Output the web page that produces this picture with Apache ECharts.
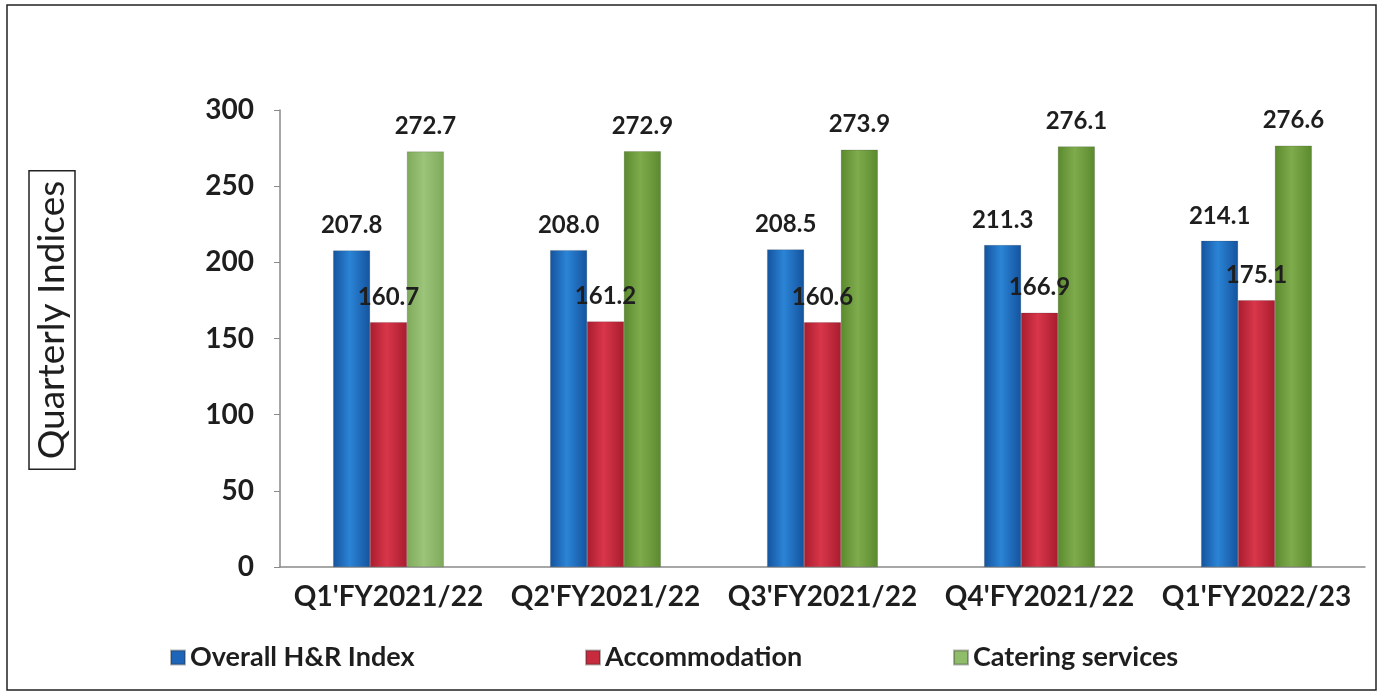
<!DOCTYPE html>
<html>
<head>
<meta charset="utf-8">
<script src="https://cdn.jsdelivr.net/npm/echarts@6/dist/echarts.min.js"></script>
<style>
  html, body { margin: 0; padding: 0; background: #fff; }
  #chart { width: 1384px; height: 696px; }
</style>
</head>
<body>
<div id="chart"></div>
<script>
const categories = ["Q1'FY2021/22", "Q2'FY2021/22", "Q3'FY2021/22", "Q4'FY2021/22", "Q1'FY2022/23"];
const overallIndex = [207.8, 208.0, 208.5, 211.3, 214.1];
const accommodation = [160.7, 161.2, 160.6, 166.9, 175.1];
const catering = [272.7, 272.9, 273.9, 276.1, 276.6];
const seriesNames = ["Overall H&R Index", "Accommodation", "Catering services"];

const FONT = "Lato";

// cylinder look: dark edges, light middle
function barGrad(edge, mid) {
  return new echarts.graphic.LinearGradient(0, 0, 1, 0, [
    { offset: 0, color: edge },
    { offset: 0.45, color: mid },
    { offset: 1, color: edge }
  ]);
}

const blue = barGrad("#14539e", "#2b84d6");
const red = barGrad("#a81d2e", "#d9364a");
const green = barGrad("#5b8a2e", "#7eab4c");
const greenLight = barGrad("#7faa5a", "#9cc47a");

const labelStyle = {
  show: true,
  position: "top",
  distance: 13,
  color: "#1e1e1e",
  fontFamily: FONT,
  fontWeight: "bold",
  fontSize: 24,
  formatter: p => p.value.toFixed(1)
};

function makeSeries(name, values, color) {
  return {
    name: name,
    type: "bar",
    barGap: 0,
    barCategoryGap: "49%",
    data: values,
    itemStyle: { color: color, borderColor: "rgba(40,40,40,0.35)", borderWidth: 0.5 },
    label: labelStyle,
    z: 2
  };
}

const cateringSeries = makeSeries(seriesNames[2], catering, green);
// first catering bar is printed lighter in the source
cateringSeries.data = catering.map((v, i) => i === 0 ? { value: v, itemStyle: { color: greenLight } } : v);

const legendText = { fontFamily: FONT, fontWeight: "bold", fontSize: 27, color: "#1e1e1e" };
function oneLegend(name, left, color) {
  return {
    data: [{ name: name, itemStyle: { color: color } }],
    left: left,
    top: 639,
    icon: "rect",
    itemWidth: 14,
    itemHeight: 14,
    itemGap: 6,
    textStyle: legendText
  };
}

const chart = echarts.init(document.getElementById("chart"));
chart.setOption({
  backgroundColor: "#fff",
  animation: false,
  grid: { left: 280, right: 19, top: 110, bottom: 129 },
  legend: [
    oneLegend(seriesNames[0], 165, "#1c65b8"),
    oneLegend(seriesNames[1], 580, "#c82a3e"),
    oneLegend(seriesNames[2], 948, "#8fbd6a")
  ],
  xAxis: {
    type: "category",
    data: categories,
    axisLine: { lineStyle: { color: "#8a8a8a", width: 1.5 } },
    axisTick: { show: false },
    axisLabel: {
      interval: 0,
      margin: 16,
      color: "#1e1e1e",
      fontFamily: FONT,
      fontWeight: "bold",
      fontSize: 28
    }
  },
  yAxis: {
    type: "value",
    min: 0,
    max: 300,
    interval: 50,
    splitLine: { show: false },
    axisLine: { show: true, lineStyle: { color: "#8a8a8a", width: 1.5 } },
    axisTick: { show: true, length: 6, lineStyle: { color: "#8a8a8a" } },
    axisLabel: {
      margin: 26,
      color: "#1e1e1e",
      fontFamily: FONT,
      fontWeight: "bold",
      fontSize: 28
    }
  },
  graphic: [
    {
      type: "rect",
      shape: { x: 7, y: 5, width: 1369, height: 685 },
      style: { fill: "none", stroke: "#222", lineWidth: 1.5 },
      silent: true
    },
    {
      // boxed axis title, rotated
      type: "text",
      x: 52,
      y: 320,
      rotation: Math.PI / 2,
      style: {
        text: "Quarterly Indices",
        fontFamily: FONT,
        fontSize: 37,
        fill: "#1e1e1e",
        align: "center",
        verticalAlign: "middle",
        borderColor: "#222",
        borderWidth: 1.5,
        padding: [6, 10, 3, 10]
      },
      silent: true
    }
  ],
  series: [
    makeSeries(seriesNames[0], overallIndex, blue),
    makeSeries(seriesNames[1], accommodation, red),
    cateringSeries
  ]
});
</script>
</body>
</html>
